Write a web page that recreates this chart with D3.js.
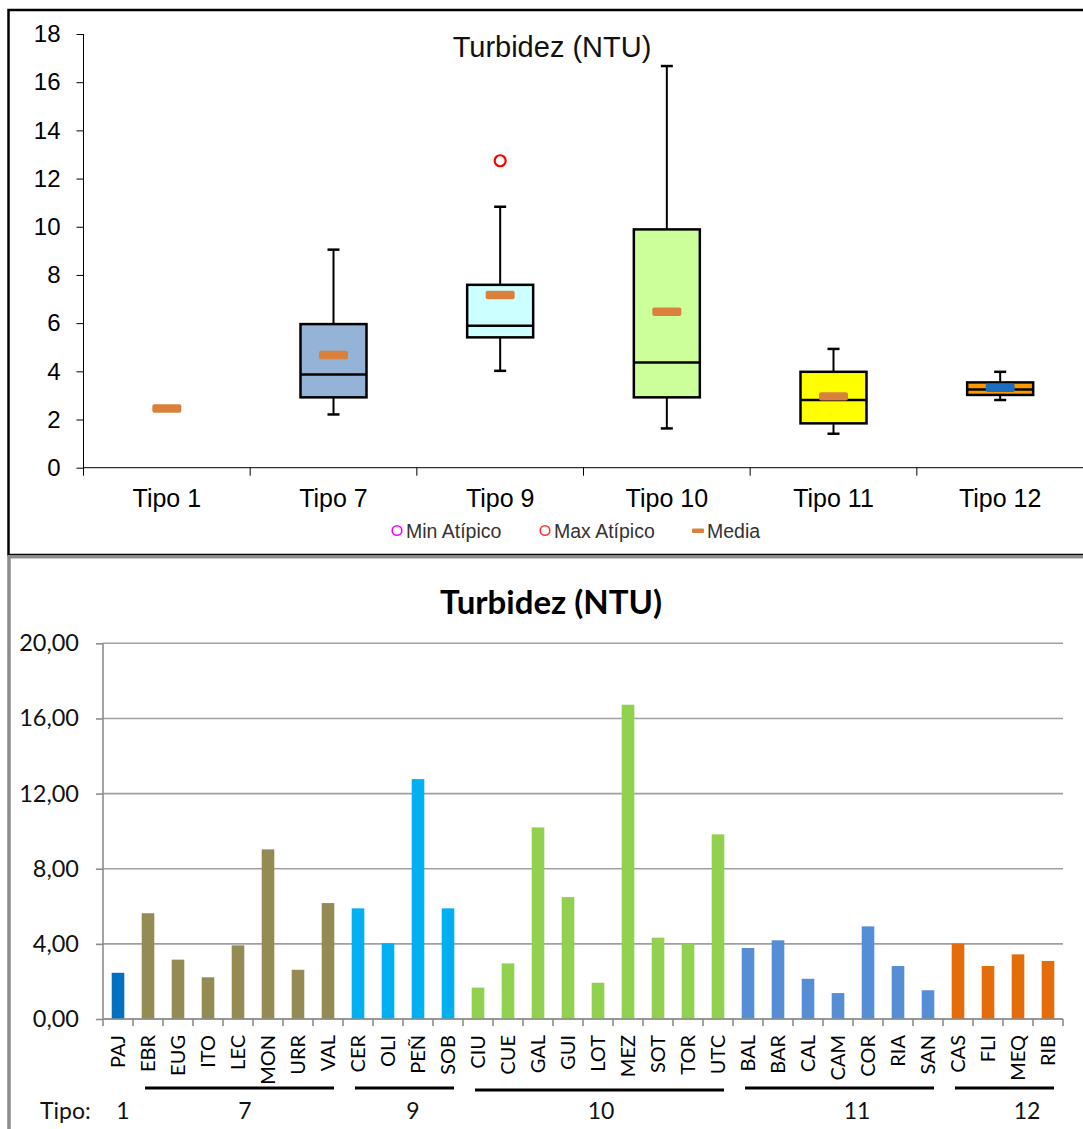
<!DOCTYPE html>
<html><head><meta charset="utf-8">
<script src="https://cdn.jsdelivr.net/npm/d3@7"></script>
<style>body{margin:0;background:#fff}svg{display:block}</style>
</head><body>
<svg id="c" width="1083" height="1129"></svg>
<script>
// ---------- Top chart data (box plot) ----------
const boxCats = ["Tipo 1","Tipo 7","Tipo 9","Tipo 10","Tipo 11","Tipo 12"];
const boxMin  = [null, 2.21, 4.02, 1.63, 1.41, 2.81];
const boxQ1   = [null, 2.92, 5.41, 2.92, 1.84, 3.02];
const boxMed  = [null, 3.87, 5.89, 4.37, 2.81, 3.25];
const boxQ3   = [null, 5.96, 7.59, 9.89, 3.98, 3.54];
const boxMax  = [null, 9.05, 10.83, 16.67, 4.93, 3.98];
const boxMean = [2.46, 4.68, 7.17, 6.47, 2.96, 3.32];
const maxOutlier = [null, null, 12.74, null, null, null];
const minOutlier = [null, null, null, null, null, null];
const boxFill = [null, "#95b3d7", "#ccffff", "#ccff99", "#ffff00", "#ff9900"];
const meanFill = ["#d9813c","#d9813c","#d9813c","#d9813c","#d9813c","#1c6fc0"];
const topTicks = [0,2,4,6,8,10,12,14,16,18];
const legendItems = ["Min Atípico","Max Atípico","Media"];

// ---------- Bottom chart data (bars) ----------
const stations = ["PAJ","EBR","EUG","ITO","LEC","MON","URR","VAL","CER","OLI","PEÑ","SOB",
  "CIU","CUE","GAL","GUI","LOT","MEZ","SOT","TOR","UTC","BAL","BAR","CAL","CAM","COR","RIA","SAN",
  "CAS","FLI","MEQ","RIB"];
const turbidity = [2.46,5.63,3.16,2.22,3.92,9.03,2.62,6.17,5.89,4.03,12.77,5.89,
  1.67,2.96,10.2,6.49,1.93,16.73,4.33,4.01,9.83,3.78,4.19,2.14,1.38,4.93,2.82,1.53,
  4.01,2.82,3.44,3.09];
const stationTipo = ["1","7","7","7","7","7","7","7","9","9","9","9",
  "10","10","10","10","10","10","10","10","10","11","11","11","11","11","11","11",
  "12","12","12","12"];
const tipoGroups = ["1","7","9","10","11","12"];
const tipoColor = {"1":"#0070c0","7":"#948a54","9":"#00b0f0","10":"#92d050","11":"#558ed5","12":"#e46c0a"};
const bottomTicks = [0,4,8,12,16,20];

// ---------- layout ----------
const svg = d3.select("#c");
const fmt = d => d3.format(".2f")(d).replace(".", ",");

// frames
svg.append("rect").attr("x",8.5).attr("y",10).attr("width",1100).attr("height",545)
  .attr("fill","none").attr("stroke","#000").attr("stroke-width",2.5);

// ===== TOP CHART =====
const tFont = "'Liberation Sans', Arial, sans-serif";
const tx = d3.scaleBand().domain(boxCats).range([83.5, 1083.5]);
const ty = d3.scaleLinear().domain([0,18]).range([467.7, 34]);
const topG = svg.append("g");

// y axis
const yAx = topG.append("g").attr("transform","translate(83.5,0)")
  .call(d3.axisLeft(ty).tickValues(topTicks).tickSize(7).tickPadding(16).tickFormat(d3.format("d")));
yAx.select(".domain").attr("d", `M0,${ty(18)}V${ty(0)+6}`).attr("stroke","#000");
yAx.selectAll("text").attr("font-family",tFont).attr("font-size",24).attr("fill","#000");
yAx.selectAll("line").attr("stroke","#000");

// x axis
const xAx = topG.append("g").attr("transform",`translate(0,${ty(0)})`)
  .call(d3.axisBottom(tx).tickSize(0).tickPadding(22));
xAx.select(".domain").attr("stroke","#000").attr("d","M83.5,0H1083.5");
xAx.selectAll("text").attr("font-family",tFont).attr("font-size",25).attr("fill","#000");
topG.append("g").selectAll("line").data(boxCats).join("line")
  .attr("x1",d=>tx(d)).attr("x2",d=>tx(d)).attr("y1",ty(0)).attr("y2",ty(0)+8)
  .attr("stroke","#000");

// title
topG.append("text").attr("x",552).attr("y",57).attr("text-anchor","middle")
  .attr("font-family",tFont).attr("font-size",29).attr("fill","#111").text("Turbidez (NTU)");

// boxes
const bw = 66, cw = 12;
boxCats.forEach((c,i)=>{
  const cx = tx(c) + tx.bandwidth()/2;
  if (boxQ1[i] != null) {
    topG.append("line").attr("x1",cx).attr("x2",cx).attr("y1",ty(boxMax[i])).attr("y2",ty(boxQ3[i]))
      .attr("stroke","#000").attr("stroke-width",2);
    topG.append("line").attr("x1",cx).attr("x2",cx).attr("y1",ty(boxQ1[i])).attr("y2",ty(boxMin[i]))
      .attr("stroke","#000").attr("stroke-width",2);
    [boxMax[i], boxMin[i]].forEach(v=>{
      topG.append("line").attr("x1",cx-cw/2).attr("x2",cx+cw/2).attr("y1",ty(v)).attr("y2",ty(v))
        .attr("stroke","#000").attr("stroke-width",2.5);
    });
    topG.append("rect").attr("x",cx-bw/2).attr("y",ty(boxQ3[i])).attr("width",bw)
      .attr("height",ty(boxQ1[i])-ty(boxQ3[i])).attr("fill",boxFill[i])
      .attr("stroke","#000").attr("stroke-width",2.5);
    topG.append("line").attr("x1",cx-bw/2).attr("x2",cx+bw/2).attr("y1",ty(boxMed[i])).attr("y2",ty(boxMed[i]))
      .attr("stroke","#000").attr("stroke-width",2.5);
  }
  topG.append("rect").attr("x",cx-14.5).attr("y",ty(boxMean[i])-4.2).attr("width",29).attr("height",8.4)
    .attr("rx",2).attr("fill",meanFill[i]);
  if (maxOutlier[i] != null) {
    topG.append("circle").attr("cx",cx).attr("cy",ty(maxOutlier[i])).attr("r",5.5)
      .attr("fill","none").attr("stroke","#ff0000").attr("stroke-width",2.2);
  }
  if (minOutlier[i] != null) {
    topG.append("circle").attr("cx",cx).attr("cy",ty(minOutlier[i])).attr("r",5.5)
      .attr("fill","none").attr("stroke","#ff00ff").attr("stroke-width",2.2);
  }
});

// legend
const leg = topG.append("g").attr("font-family",tFont).attr("font-size",19.5).attr("fill","#333");
const legX = [397, 545, 698];
leg.append("circle").attr("cx",legX[0]).attr("cy",530.5).attr("r",4.8).attr("fill","none").attr("stroke","#ff00ff").attr("stroke-width",1.6);
leg.append("circle").attr("cx",legX[1]).attr("cy",530.5).attr("r",4.8).attr("fill","none").attr("stroke","#ff3030").attr("stroke-width",1.6);
leg.append("rect").attr("x",legX[2]-6).attr("y",528.5).attr("width",12).attr("height",4.5).attr("rx",1).attr("fill","#d9813c");
legendItems.forEach((t,i)=>{
  leg.append("text").attr("x",legX[i]+9).attr("y",538).text(t);
});

// ===== BOTTOM CHART =====
svg.append("rect").attr("x",9).attr("y",556.7).attr("width",1100).attr("height",600)
  .attr("fill","#fff").attr("stroke","#8c8c8c").attr("stroke-width",3.5);
const bFont = "Lato, 'Open Sans', sans-serif";
const bx = d3.scaleBand().domain(stations).range([103, 1063]).paddingInner(0.58).paddingOuter(0.29);
const bxFull = d3.scaleBand().domain(stations).range([103, 1063]);
const by = d3.scaleLinear().domain([0,20]).range([1019, 643.3]);
const botG = svg.append("g");

botG.append("text").attr("x",551).attr("y",614).attr("text-anchor","middle")
  .attr("font-family",bFont).attr("font-weight","bold").attr("font-size",33).attr("fill","#000")
  .text("Turbidez (NTU)");

// gridlines
botG.append("g").selectAll("line").data(bottomTicks).join("line")
  .attr("x1",103).attr("x2",1063).attr("y1",d=>by(d)).attr("y2",d=>by(d))
  .attr("stroke","#a0a0a0").attr("stroke-width",1.6);

// bars
botG.append("g").selectAll("rect").data(stations).join("rect")
  .attr("x",d=>bx(d)).attr("width",bx.bandwidth())
  .attr("y",(d,i)=>by(turbidity[i])).attr("height",(d,i)=>by(0)-by(turbidity[i]))
  .attr("fill",(d,i)=>tipoColor[stationTipo[i]]);

// y axis
const byAx = botG.append("g").attr("transform","translate(103,0)")
  .call(d3.axisLeft(by).tickValues(bottomTicks).tickSize(7).tickPadding(17).tickFormat(fmt));
byAx.select(".domain").attr("stroke","#8c8c8c").attr("stroke-width",1.6).attr("d",`M0,${by(20)}V${by(0)}`);
byAx.selectAll("line").attr("stroke","#8c8c8c").attr("stroke-width",1.6);
byAx.selectAll("text").attr("font-family",bFont).attr("font-size",23.5).attr("fill","#111");

// x axis line + ticks at band boundaries
botG.append("line").attr("x1",103).attr("x2",1063).attr("y1",by(0)).attr("y2",by(0))
  .attr("stroke","#8c8c8c").attr("stroke-width",1.6);
botG.append("g").selectAll("line").data(stations.concat(["__end"])).join("line")
  .attr("x1",(d,i)=>103+i*bxFull.step()).attr("x2",(d,i)=>103+i*bxFull.step())
  .attr("y1",by(0)).attr("y2",by(0)+7).attr("stroke","#8c8c8c").attr("stroke-width",1.6);

// rotated station labels
botG.append("g").selectAll("text").data(stations).join("text")
  .attr("transform",d=>`translate(${bxFull(d)+bxFull.bandwidth()/2+7},1035) rotate(-90)`)
  .attr("text-anchor","end").attr("font-family",bFont).attr("font-size",20).attr("fill","#000")
  .text(d=>d);

// group underlines and labels
const labelShift = {"1":5,"7":7,"9":10,"10":3,"11":19,"12":24};
tipoGroups.forEach(g=>{
  const idx = stationTipo.map((t,i)=>t===g?i:-1).filter(i=>i>=0);
  const x0 = bxFull(stations[idx[0]]), x1 = bxFull(stations[idx[idx.length-1]]) + bxFull.step();
  if (idx.length > 1) {
    const yl = g==="10" ? 1090 : 1088;
    botG.append("line").attr("x1",x0+12).attr("x2",x1-9).attr("y1",yl).attr("y2",yl)
      .attr("stroke","#000").attr("stroke-width",3);
  }
  botG.append("text").attr("x",(x0+x1)/2+labelShift[g]).attr("y",1119).attr("text-anchor","middle")
    .attr("font-family",bFont).attr("font-size",23).attr("fill","#111").text(g);
});
botG.append("text").attr("x",40).attr("y",1119).attr("font-family",bFont).attr("font-size",23)
  .attr("fill","#111").text("Tipo:");
</script>
</body></html>
